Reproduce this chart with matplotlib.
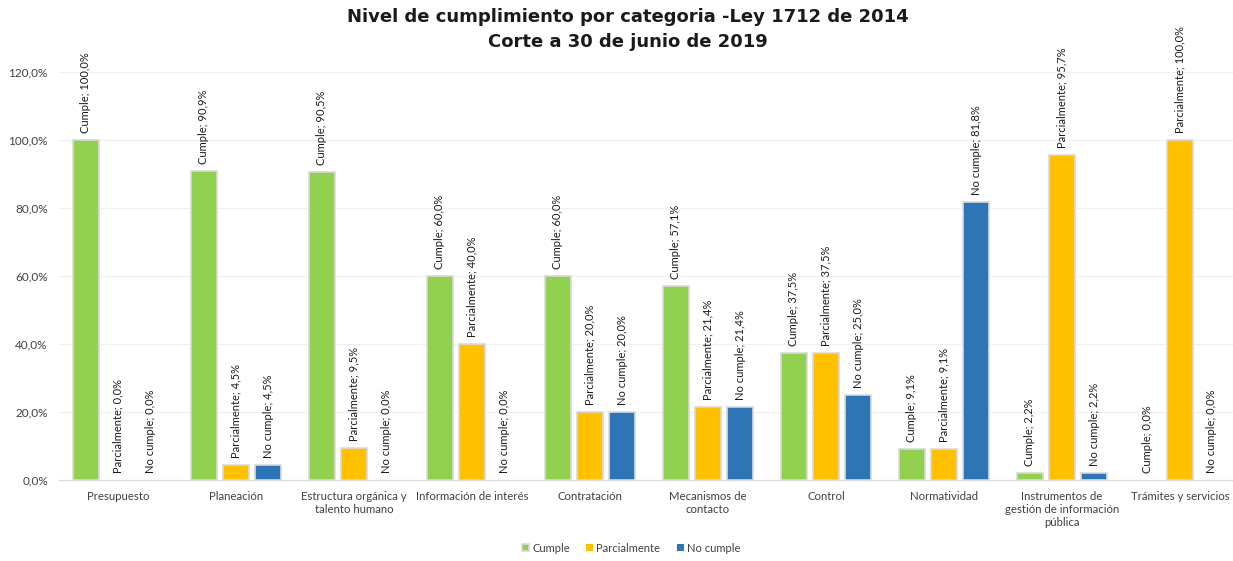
import matplotlib

matplotlib.use("Agg")

import matplotlib.pyplot as plt
import numpy as np
from matplotlib.ticker import FuncFormatter

categories = [
    "Presupuesto",
    "Planeación",
    "Estructura orgánica y\ntalento humano",
    "Información de interés",
    "Contratación",
    "Mecanismos de\ncontacto",
    "Control",
    "Normatividad",
    "Instrumentos de\ngestión de información\npública",
    "Trámites y servicios",
]
series_names = ["Cumple", "Parcialmente", "No cumple"]
cumple = [100.0, 90.9, 90.5, 60.0, 60.0, 57.1, 37.5, 9.1, 2.2, 0.0]
parcialmente = [0.0, 4.5, 9.5, 40.0, 20.0, 21.4, 37.5, 9.1, 95.7, 100.0]
no_cumple = [0.0, 4.5, 0.0, 0.0, 20.0, 21.4, 25.0, 81.8, 2.2, 0.0]
colors = ["#92D050", "#FFC000", "#2E75B6"]

title = "Nivel de cumplimiento por categoria -Ley 1712 de 2014\nCorte a 30 de junio de 2019"

plt.rcParams["font.family"] = ["Lato", "DejaVu Sans"]

fig = plt.figure(figsize=(12.33, 5.61), dpi=100)
ax = fig.add_axes([59 / 1233, 1 - 480 / 561, 1 - 59 / 1233, (480 - 72) / 561])

x = np.arange(len(categories))
width = 0.215
offset = 0.272
for i, (name, vals, color) in enumerate(zip(series_names, [cumple, parcialmente, no_cumple], colors)):
    pos = x + (i - 1) * offset
    edges = ["#D9D9D9" if v > 0 else "none" for v in vals]
    ax.bar(pos, vals, width, color=color, edgecolor=edges, linewidth=1.2, label=name, zorder=3)
    for px, v in zip(pos, vals):
        txt = f"{name}; {v:.1f}%".replace(".", ",")
        ax.annotate(txt, (px, v), xytext=(0, 5), textcoords="offset points",
                    rotation=90, ha="center", va="bottom", fontsize=8, color="#1a1a1a")

ax.set_xlim(-0.5, 9.45)
ax.set_ylim(0, 120)
ax.set_yticks(np.arange(0, 121, 20))
ax.yaxis.set_major_formatter(FuncFormatter(lambda v, _: f"{v:.1f}%".replace(".", ",")))
ax.set_xticks(x)
ax.set_xticklabels(categories, fontsize=8.2, color="#404040")
ax.tick_params(axis="y", labelsize=8.5, labelcolor="#404040", length=0, pad=8)
ax.tick_params(axis="x", length=0, pad=8)
ax.grid(axis="y", color="#F0F0F0", linewidth=0.8, zorder=0)
for s in ["top", "right", "left"]:
    ax.spines[s].set_visible(False)
ax.spines["bottom"].set_color("#D9D9D9")

fig.text(0.509, 0.985, title, ha="center", va="top", fontsize=13, fontweight="bold",
         color="#1a1a1a", linespacing=1.5, family=["DejaVu Sans"])

fig.legend(loc="lower center", bbox_to_anchor=(0.512, -0.005), ncol=3, frameon=False,
           fontsize=8, handlelength=0.6, handleheight=0.6, columnspacing=1.5,
           handletextpad=0.3, labelcolor="#404040")

fig.savefig("out.png", dpi=100)
